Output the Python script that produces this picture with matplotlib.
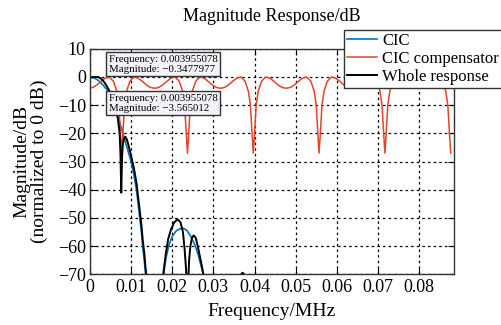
import numpy as np
import matplotlib
matplotlib.use("Agg")
import matplotlib.pyplot as plt

plt.rcParams['font.family'] = ['Liberation Serif', 'DejaVu Serif']

#%% datos (MHz, dB)

f_cic = [0, 0.001, 0.002, 0.003, 0.004, 0.005, 0.006, 0.007, 0.008, 0.009,
         0.010, 0.0107, 0.0113, 0.0117, 0.0121, 0.0125, 0.0128, 0.0132, 0.0135,
         0.0140, 0.0150, 0.0160, 0.0170, 0.0176, 0.0179, 0.0185, 0.0192, 0.0200,
         0.0210, 0.0224, 0.0235, 0.0245, 0.0255, 0.0263, 0.0270, 0.0276, 0.0285,
         0.0300]
mag_cic = [0, -0.3, -1.2, -2.6, -4.3, -6.6, -10.2, -15.0, -20.0, -25.0,
           -30.0, -35.0, -40.0, -45.0, -50.0, -55.0, -60.0, -65.0, -70.0,
           -80, -95, -120, -90, -76, -70, -64, -59.5, -56.5,
           -54.5, -53.5, -54.3, -56.5, -59.5, -63, -67, -70, -78,
           -95]

f_comp = [0.0000, 0.0007, 0.0017, 0.0027, 0.0037, 0.0047, 0.0057, 0.0065, 0.0070, 0.0074, 0.0077,
          0.0080, 0.0084, 0.0089, 0.0097, 0.0107, 0.0117, 0.0127, 0.0137, 0.0147, 0.0157,
          0.0167, 0.0177, 0.0187, 0.0197, 0.0207, 0.0217, 0.0225, 0.0230, 0.0234, 0.0237,
          0.0240, 0.0244, 0.0249, 0.0257, 0.0267, 0.0277, 0.0287, 0.0297, 0.0307, 0.0317,
          0.0327, 0.0337, 0.0347, 0.0357, 0.0367, 0.0377, 0.0385, 0.0390, 0.0394, 0.0397,
          0.0400, 0.0404, 0.0409, 0.0417, 0.0427, 0.0437, 0.0447, 0.0457, 0.0467, 0.0477,
          0.0487, 0.0497, 0.0507, 0.0517, 0.0527, 0.0537, 0.0545, 0.0550, 0.0554, 0.0557,
          0.0560, 0.0564, 0.0569, 0.0577, 0.0587, 0.0597, 0.0607, 0.0617, 0.0627, 0.0637,
          0.0647, 0.0657, 0.0667, 0.0677, 0.0687, 0.0697, 0.0705, 0.0710, 0.0714, 0.0717,
          0.0720, 0.0724, 0.0729, 0.0737, 0.0747, 0.0757, 0.0767, 0.0777, 0.0787, 0.0797,
          0.0807, 0.0817, 0.0827, 0.0837, 0.0847, 0.0857, 0.0865, 0.0870, 0.0874, 0.0877]
mag_comp = [-3.9, -3.7, -2.8, -1.5, -0.4, 0.0, -1.5, -5.0, -10.0, -20.0, -27.0,
            -20, -10, -5, -1.5, 0, -0.4, -1.5, -2.8, -3.7, -4.0,
            -3.7, -2.8, -1.5, -0.4, 0.0, -1.5, -5, -10, -20, -27,
            -20, -10, -5, -1.5, 0, -0.4, -1.5, -2.8, -3.7, -4.0,
            -3.7, -2.8, -1.5, -0.4, 0.0, -1.5, -5, -10, -20, -27,
            -20, -10, -5, -1.5, 0, -0.4, -1.5, -2.8, -3.7, -4.0,
            -3.7, -2.8, -1.5, -0.4, 0.0, -1.5, -5, -10, -20, -27,
            -20, -10, -5, -1.5, 0, -0.4, -1.5, -2.8, -3.7, -4.0,
            -3.7, -2.8, -1.5, -0.4, 0.0, -1.5, -5, -10, -20, -27,
            -20, -10, -5, -1.5, 0, -0.4, -1.5, -2.8, -3.7, -4.0,
            -3.7, -2.8, -1.5, -0.4, 0.0, -1.5, -5, -10, -20, -27]

f_total = [0, 0.001, 0.002, 0.0027, 0.0034, 0.004, 0.0046, 0.0055, 0.0062, 0.0068,
           0.0072, 0.0074, 0.0076, 0.0078, 0.0080, 0.0083, 0.0086, 0.0090, 0.0095,
           0.0100, 0.0107, 0.0113, 0.0117, 0.0121, 0.0125, 0.0128, 0.0132, 0.0135,
           0.0137, 0.0142, 0.0150, 0.0160, 0.0170, 0.0175, 0.0178, 0.0184, 0.0190,
           0.0197, 0.0205, 0.0213, 0.0220, 0.0226, 0.0230, 0.0233, 0.0235, 0.0237,
           0.0239, 0.0241, 0.0244, 0.0248, 0.0252, 0.0257, 0.0262, 0.0267, 0.0272,
           0.0276, 0.0282, 0.0300, 0.0330, 0.0355, 0.0365, 0.0371, 0.0377, 0.0385,
           0.0397]
mag_total = [-0.2, 0.0, 0.0, -0.6, -1.7, -3.0, -4.6, -7.5, -10.5, -15,
             -20, -27, -41, -28, -23.5, -21.8, -21.2, -22.3, -25,
             -28, -32.5, -37.5, -42.5, -47.5, -52.5, -57.5, -62.5, -67.5,
             -70.5, -78, -92, -115, -90, -76, -70, -63, -57.5,
             -54, -51.5, -50.5, -51.5, -55, -61, -67, -72, -85,
             -72, -65, -60, -57, -56.2, -57, -60, -63.5, -67,
             -70.5, -78, -95, -80, -71.5, -70.3, -69.4, -70.3, -73,
             -100]

xticks = [0, 0.01, 0.02, 0.03, 0.04, 0.05, 0.06, 0.07, 0.08]
yticks = [10, 0, -10, -20, -30, -40, -50, -60, -70]

#%%

fig = plt.figure(figsize=(5.01, 3.25), dpi=100)
ax = fig.add_axes([90/501, 1 - 274.4/325, 364/501, 225.6/325])

ax.plot(f_cic, mag_cic, color='#0072BD', lw=1.2, label='CIC')
ax.plot(f_comp, mag_comp, color='#E2452B', lw=1.1, label='CIC compensator')
ax.plot(f_total, mag_total, color='k', lw=1.4, label='Whole response')

ax.set_xlim(0, 0.0885)
ax.set_ylim(-70, 10)
ax.set_xticks(xticks)
ax.set_xticklabels(['0', '0.01', '0.02', '0.03', '0.04', '0.05', '0.06', '0.07', '0.08'])
ax.set_yticks(yticks)
ax.tick_params(direction='in', top=True, right=True, labelsize=13, length=4, pad=3)

ax.grid(True, color='k', linestyle=(0, (2, 2.5)), linewidth=0.9)
for s in ax.spines.values():
    s.set_color('#333333')
    s.set_linewidth(1.0)

ax.set_title('Magnitude Response/dB', fontsize=13, pad=20)
ax.set_xlabel('Frequency/MHz', fontsize=14, labelpad=5)
ax.set_ylabel('Magnitude/dB\n(normalized to 0 dB)', fontsize=14, labelpad=7,
              linespacing=1.05)

leg = ax.legend(loc='upper left', bbox_to_anchor=(344/501, 1 - 30/325),
                bbox_transform=fig.transFigure, fontsize=12, fancybox=False,
                edgecolor='#333333', framealpha=1, borderpad=0.2,
                labelspacing=0.1, handlelength=1.8, handletextpad=0.3,
                borderaxespad=0)
leg.get_frame().set_linewidth(1.0)

# data tips
caja = dict(boxstyle='square,pad=0.25', fc='#f3f3f7', ec='#333333', lw=1.0)
fig.text(109/501, 1 - 55/325, 'Frequency: 0.003955078\nMagnitude: \u22120.3477977',
         fontsize=7.8, va='top', ha='left', bbox=caja, linespacing=1.1)
fig.text(109/501, 1 - 94/325, 'Frequency: 0.003955078\nMagnitude: \u22123.565012',
         fontsize=7.8, va='top', ha='left', bbox=caja, linespacing=1.1)

fig.savefig('out.png', dpi=100)
